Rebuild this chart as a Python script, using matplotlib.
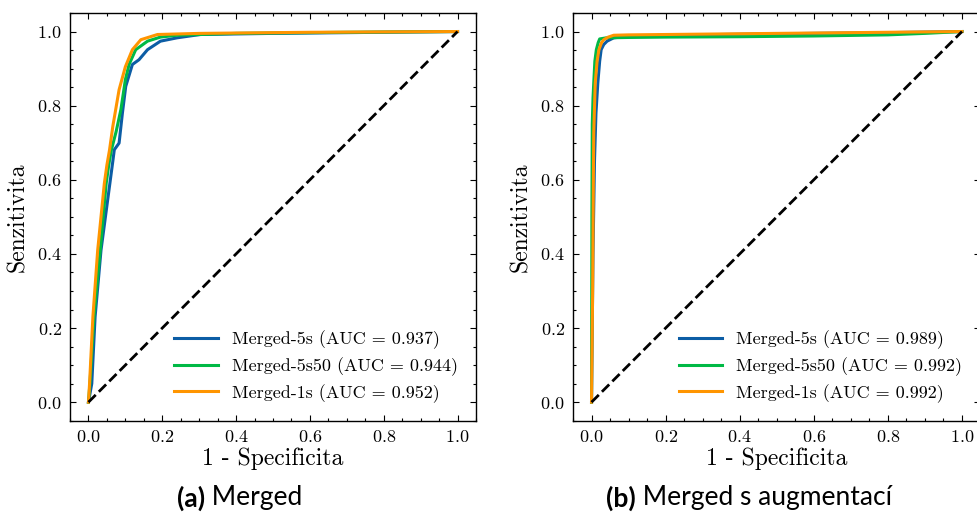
import matplotlib
matplotlib.use("Agg")
import matplotlib.pyplot as plt
from matplotlib.ticker import MultipleLocator

# ROC points (fpr = 1 - specificita, tpr = senzitivita)
a_5s_fpr = [0, 0.009, 0.018, 0.034, 0.046, 0.058, 0.066, 0.070, 0.083, 0.092, 0.101, 0.119, 0.137, 0.160, 0.195, 0.240, 0.303, 0.5, 0.8, 1.0]
a_5s_tpr = [0, 0.05, 0.23, 0.41, 0.50, 0.59, 0.65, 0.681, 0.699, 0.78, 0.852, 0.911, 0.924, 0.951, 0.974, 0.983, 0.992, 0.995, 0.998, 1.0]
a_5s50_fpr = [0, 0.004, 0.015, 0.032, 0.040, 0.048, 0.055, 0.062, 0.075, 0.088, 0.100, 0.110, 0.128, 0.160, 0.195, 0.240, 0.4, 0.7, 1.0]
a_5s50_tpr = [0, 0.05, 0.23, 0.41, 0.50, 0.59, 0.64, 0.68, 0.73, 0.79, 0.87, 0.911, 0.951, 0.974, 0.985, 0.99, 0.995, 0.998, 1.0]
a_1s_fpr = [0, 0.003, 0.012, 0.025, 0.034, 0.043, 0.050, 0.057, 0.066, 0.083, 0.100, 0.119, 0.142, 0.187, 0.3, 0.6, 1.0]
a_1s_tpr = [0, 0.05, 0.23, 0.41, 0.50, 0.59, 0.64, 0.68, 0.744, 0.843, 0.905, 0.951, 0.978, 0.992, 0.995, 0.998, 1.0]

b_5s_fpr = [0, 0.004, 0.008, 0.012, 0.017, 0.022, 0.026, 0.033, 0.042, 0.06, 0.087, 0.2, 0.5, 0.8, 1.0]
b_5s_tpr = [0, 0.4, 0.65, 0.78, 0.861, 0.92, 0.951, 0.965, 0.974, 0.983, 0.986, 0.99, 0.994, 0.997, 1.0]
b_5s50_fpr = [0, 0.001, 0.002, 0.004, 0.006, 0.009, 0.013, 0.018, 0.022, 0.04, 0.1, 0.2, 0.4, 0.6, 0.8, 0.9, 1.0]
b_5s50_tpr = [0, 0.5, 0.75, 0.82, 0.861, 0.92, 0.951, 0.97, 0.98, 0.983, 0.984, 0.985, 0.986, 0.988, 0.991, 0.995, 1.0]
b_1s_fpr = [0, 0.003, 0.005, 0.006, 0.01, 0.015, 0.02, 0.027, 0.033, 0.045, 0.06, 0.1, 0.3, 0.6, 1.0]
b_1s_tpr = [0, 0.3, 0.6, 0.726, 0.861, 0.92, 0.951, 0.97, 0.978, 0.985, 0.99, 0.991, 0.993, 0.996, 1.0]

names = ["Merged-5s", "Merged-5s50", "Merged-1s"]
a_auc = [0.937, 0.944, 0.952]
b_auc = [0.989, 0.992, 0.992]
colors = ["#0C5DA5", "#00B945", "#FF9500"]

plt.rcParams["font.family"] = ["cmr10", "DejaVu Serif"]
plt.rcParams["axes.formatter.use_mathtext"] = True
plt.rcParams["axes.unicode_minus"] = False

fig = plt.figure(figsize=(9.78, 5.2), dpi=100)
W, H = 978.0, 520.0


def make_axes(left_px, right_px):
    return fig.add_axes([left_px / W, 1 - 420.7 / H, (right_px - left_px) / W, (420.7 - 13) / H])


def style_axes(ax):
    ax.set_xlim(-0.05, 1.05)
    ax.set_ylim(-0.05, 1.05)
    ax.xaxis.set_major_locator(MultipleLocator(0.2))
    ax.yaxis.set_major_locator(MultipleLocator(0.2))
    ax.xaxis.set_minor_locator(MultipleLocator(0.05))
    ax.yaxis.set_minor_locator(MultipleLocator(0.05))
    ax.tick_params(which="both", direction="in", top=True, right=True, labelsize=13, width=0.8)
    ax.tick_params(which="major", length=4.5, pad=6)
    ax.tick_params(which="minor", length=2.2)
    for s in ax.spines.values():
        s.set_linewidth(1.0)
    ax.set_xlabel("1 - Specificita", fontsize=17, labelpad=2)
    ax.set_ylabel("Senzitivita", fontsize=17, labelpad=6)


def plot_panel(ax, curves, aucs):
    for (fpr, tpr), name, auc, c in zip(curves, names, aucs, colors):
        ax.plot(fpr, tpr, color=c, lw=2.2, label=f"{name} (AUC = {auc:.3f})")
    ax.plot([0, 1], [0, 1], "k--", lw=2.0)
    ax.legend(loc="lower right", frameon=False, fontsize=13, handlelength=2.4,
              labelspacing=0.45, borderaxespad=0.6)
    style_axes(ax)


ax1 = make_axes(70, 476)
plot_panel(ax1, [(a_5s_fpr, a_5s_tpr), (a_5s50_fpr, a_5s50_tpr), (a_1s_fpr, a_1s_tpr)], a_auc)

ax2 = make_axes(573, 980.5)
plot_panel(ax2, [(b_5s_fpr, b_5s_tpr), (b_5s50_fpr, b_5s50_tpr), (b_1s_fpr, b_1s_tpr)], b_auc)

# sub-captions below the panels
cap_y = 1 - 498 / H
fig.text(205 / W, cap_y, "(a)", family="Lato", fontweight="bold", fontsize=19, ha="right", va="center")
fig.text(205 / W, cap_y, " Merged", family="Lato", fontsize=19, ha="left", va="center")
fig.text(636 / W, cap_y, "(b)", family="Lato", fontweight="bold", fontsize=19, ha="right", va="center")
fig.text(636 / W, cap_y, " Merged s augmentací", family="Lato", fontsize=19, ha="left", va="center")

fig.savefig("out.png", dpi=100)
